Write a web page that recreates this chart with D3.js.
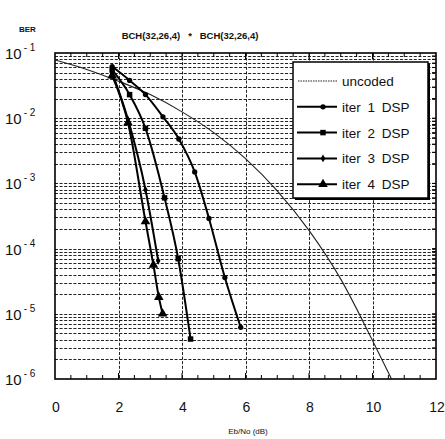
<!DOCTYPE html>
<html>
<head>
<meta charset="utf-8">
<script src="https://cdn.jsdelivr.net/npm/d3@7"></script>
<style>
  body { margin: 0; background: #fff; }
  text { font-family: "Liberation Sans", Arial, sans-serif; fill: #111; }
</style>
</head>
<body>
<script>
// ------------------------------------------------ Data ------------------------------------------------ //
var uncoded_x   = [0, 1, 2, 3, 4, 5, 6, 7, 8, 9, 10, 10.6];
var uncoded_ber = [0.078, 0.056, 0.037, 0.023, 0.0125, 0.006, 0.0024, 0.00077, 0.00019, 3.4e-5, 3.9e-6, 1e-6];

var iter1_x   = [1.8, 2.35, 2.85, 3.4, 3.9, 4.4, 4.85, 5.35, 5.85];
var iter1_ber = [0.062, 0.038, 0.023, 0.0105, 0.0048, 0.0015, 2.9e-4, 3.6e-5, 6.2e-6];

var iter2_x   = [1.8, 2.35, 2.85, 3.45, 3.88, 4.27];
var iter2_ber = [0.055, 0.023, 0.007, 6e-4, 7e-5, 4.1e-6];

var iter3_x   = [1.8, 2.3, 2.85, 3.25];
var iter3_ber = [0.05, 0.0095, 8e-4, 6.5e-5];

var iter4_x   = [1.8, 2.3, 2.85, 3.1, 3.27, 3.39];
var iter4_ber = [0.045, 0.0085, 2.6e-4, 5.6e-5, 1.8e-5, 1e-5];

var series_names = ["iter 1 DSP", "iter 2 DSP", "iter 3 DSP", "iter 4 DSP"];
var x_ticks = [0, 2, 4, 6, 8, 10, 12];
var y_exps  = [-1, -2, -3, -4, -5, -6];

// ---------------------------------------------- Init SVG ---------------------------------------------- //
var W = 445, H = 439;
var plot = {left: 55, right: 436, top: 53, bottom: 379};

var svg = d3.select("body").append("svg")
    .attr("width", W)
    .attr("height", H);

var x = d3.scaleLinear().domain([0, 12]).range([plot.left, plot.right]);
var y = d3.scaleLog().domain([1e-6, 1e-1]).range([plot.bottom, plot.top]);

// ------------------------------------------------ Grid ------------------------------------------------ //
var grid = svg.append("g").attr("class", "grid")
    .attr("stroke", "#222")
    .attr("stroke-width", 1)
    .attr("stroke-dasharray", "3,1.6");

var y_grid = [];
for (var e = -6; e < -1; ++e)
    for (var k = 1; k < 10; ++k)
        y_grid.push(k * Math.pow(10, e));
y_grid = y_grid.filter(function(v) { return v > 1.01e-6; });

grid.selectAll("line.h")
    .data(y_grid)
    .enter().append("line")
        .attr("class", "h")
        .attr("x1", plot.left).attr("x2", plot.right)
        .attr("y1", function(d) { return Math.round(y(d)) + 0.5; })
        .attr("y2", function(d) { return Math.round(y(d)) + 0.5; });

grid.selectAll("line.v")
    .data([2, 4, 6, 8, 10])
    .enter().append("line")
        .attr("class", "v")
        .attr("y1", plot.top).attr("y2", plot.bottom)
        .attr("x1", function(d) { return Math.round(x(d)) + 0.5; })
        .attr("x2", function(d) { return Math.round(x(d)) + 0.5; });

// ------------------------------------------------ Axes ------------------------------------------------ //
var minor_x = d3.range(0.5, 12, 0.5);
var ticks = svg.append("g").attr("stroke", "#000").attr("stroke-width", 1);
ticks.selectAll("line.b")
    .data(minor_x)
    .enter().append("line")
        .attr("x1", function(d) { return x(d); }).attr("x2", function(d) { return x(d); })
        .attr("y1", plot.bottom).attr("y2", function(d) { return plot.bottom - (d % 2 == 0 ? 6 : 4); });
ticks.selectAll("line.t")
    .data(minor_x)
    .enter().append("line")
        .attr("x1", function(d) { return x(d); }).attr("x2", function(d) { return x(d); })
        .attr("y1", plot.top).attr("y2", function(d) { return plot.top + (d % 2 == 0 ? 6 : 4); });
ticks.selectAll("line.r")
    .data(y_grid)
    .enter().append("line")
        .attr("x1", plot.right).attr("x2", plot.right - 4)
        .attr("y1", function(d) { return y(d); }).attr("y2", function(d) { return y(d); });

svg.append("rect")
    .attr("x", plot.left).attr("y", plot.top)
    .attr("width", plot.right - plot.left)
    .attr("height", plot.bottom - plot.top)
    .attr("fill", "none")
    .attr("stroke", "#000")
    .attr("stroke-width", 1.6);

// x tick labels
svg.append("g").selectAll("text")
    .data(x_ticks)
    .enter().append("text")
        .attr("x", function(d) { return x(d) + 1; })
        .attr("y", 412)
        .attr("text-anchor", "middle")
        .attr("font-size", 14)
        .text(function(d) { return d; });

// y tick labels: 10 with superscript exponent
var ylab = svg.append("g").selectAll("text")
    .data(y_exps)
    .enter().append("text")
        .attr("x", 5)
        .attr("y", function(d) { return y(Math.pow(10, d)) + 6; })
        .attr("font-size", 15);
ylab.append("tspan").text("10");
ylab.append("tspan")
    .attr("dy", -8)
    .attr("dx", 2)
    .attr("font-size", 10)
    .text(function(d) { return "- " + (-d); });

svg.append("text")
    .attr("x", 19).attr("y", 32)
    .attr("font-size", 8)
    .attr("font-weight", "bold")
    .text("BER");

svg.append("text")
    .attr("x", 190).attr("y", 39)
    .attr("text-anchor", "middle")
    .attr("font-family", "Liberation Serif, Times New Roman, serif")
    .attr("font-size", 9.5)
    .attr("font-weight", "bold")
    .attr("xml:space", "preserve")
    .text("BCH(32,26,4)   *   BCH(32,26,4)");

svg.append("text")
    .attr("x", 248).attr("y", 434)
    .attr("text-anchor", "middle")
    .attr("font-size", 8)
    .text("Eb/No (dB)");

// ----------------------------------------------- Curves ----------------------------------------------- //
function zip(xs, ys) { return xs.map(function(v, i) { return [v, ys[i]]; }); }

var line = d3.line()
    .x(function(d) { return x(d[0]); })
    .y(function(d) { return y(d[1]); })
    .curve(d3.curveMonotoneX);

var curves = svg.append("g").attr("class", "curves");

curves.append("path")
    .datum(zip(uncoded_x, uncoded_ber))
    .attr("fill", "none")
    .attr("stroke", "#222")
    .attr("stroke-width", 1.1)
    .attr("d", line);

var iters = [zip(iter1_x, iter1_ber), zip(iter2_x, iter2_ber), zip(iter3_x, iter3_ber), zip(iter4_x, iter4_ber)];
var markers = [
    d3.symbol().type(d3.symbolCircle).size(22),
    d3.symbol().type(d3.symbolSquare).size(30),
    d3.symbol().type(d3.symbolDiamond).size(18),
    d3.symbol().type(d3.symbolTriangle).size(40)
];

iters.forEach(function(pts, i) {
    curves.append("path")
        .datum(pts)
        .attr("fill", "none")
        .attr("stroke", "#000")
        .attr("stroke-width", 2)
        .attr("d", line);
    curves.selectAll("path.m" + i)
        .data(pts)
        .enter().append("path")
            .attr("class", "m" + i)
            .attr("transform", function(d) { return "translate(" + x(d[0]) + "," + y(d[1]) + ")"; })
            .attr("fill", "#000")
            .attr("d", markers[i]);
});

// ----------------------------------------------- Legend ----------------------------------------------- //
var lg = {x: 293, y: 62, w: 135, h: 136, row: 25.8, first: 81};
var legend = svg.append("g").attr("class", "legend");
legend.append("rect")
    .attr("x", lg.x + 2).attr("y", lg.y + 2)
    .attr("width", lg.w).attr("height", lg.h)
    .attr("fill", "#000");
legend.append("rect")
    .attr("x", lg.x).attr("y", lg.y)
    .attr("width", lg.w).attr("height", lg.h)
    .attr("fill", "#fff")
    .attr("stroke", "#000")
    .attr("stroke-width", 1.5);

var names = ["uncoded"].concat(series_names);
names.forEach(function(n, i) {
    var ry = lg.first + i * lg.row;
    if (i == 0) {
        legend.append("line")
            .attr("x1", 298).attr("x2", 337)
            .attr("y1", ry).attr("y2", ry)
            .attr("stroke", "#222").attr("stroke-width", 1)
            .attr("stroke-dasharray", "1.5,1");
    } else {
        legend.append("line")
            .attr("x1", 297).attr("x2", 337)
            .attr("y1", ry).attr("y2", ry)
            .attr("stroke", "#000").attr("stroke-width", 2);
        legend.append("path")
            .attr("transform", "translate(323," + ry + ")")
            .attr("d", markers[i - 1]);
    }
    legend.append("text")
        .attr("x", 342).attr("y", ry + 5)
        .attr("font-size", 13.5)
        .attr("word-spacing", 3)
        .text(n);
});
</script>
</body>
</html>
